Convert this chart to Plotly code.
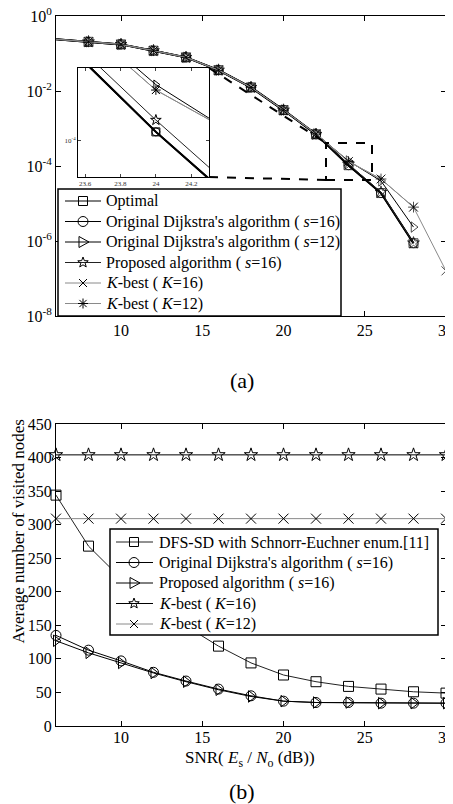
import math
import plotly.graph_objects as go

# page has an 8px body margin, so the figure is drawn 8px right/down
OFF = 8
W, H = 453 - OFF, 804 - OFF

# ---------------- data: (a) BER ----------------
snr_a = [6, 8, 10, 12, 14, 16, 18, 20, 22, 24, 26, 28]
snr_a30 = [6, 8, 10, 12, 14, 16, 18, 20, 22, 24, 26, 28, 30]
ber_optimal = [0.24, 0.205, 0.175, 0.119, 0.079, 0.036, 0.0125, 3.1e-3, 7.0e-4, 1.05e-4, 1.9e-5, 8.7e-7]
ber_dijk16 = [0.24, 0.205, 0.175, 0.119, 0.079, 0.036, 0.0125, 3.1e-3, 7.0e-4, 1.05e-4, 1.9e-5, 8.7e-7]
ber_dijk12 = [0.24, 0.205, 0.175, 0.119, 0.079, 0.036, 0.0125, 3.1e-3, 7.2e-4, 1.36e-4, 4.0e-5, 2.35e-6]
ber_prop16 = [0.24, 0.205, 0.175, 0.119, 0.079, 0.036, 0.0125, 3.1e-3, 7.0e-4, 1.12e-4, 2.0e-5, 8.9e-7]
ber_kbest16 = [0.24, 0.205, 0.175, 0.119, 0.079, 0.036, 0.0125, 3.1e-3, 7.2e-4, 1.32e-4, 4.5e-5, 8.0e-6, 1.6e-7]
ber_kbest12 = [0.24, 0.205, 0.175, 0.119, 0.079, 0.036, 0.0125, 3.1e-3, 7.2e-4, 1.32e-4, 4.5e-5, 8.0e-6]

# ---------------- data: (b) visited nodes ----------------
snr_b = [6, 8, 10, 12, 14, 16, 18, 20, 22, 24, 26, 28, 30]
nodes_dfs = [344, 268, 220, 182, 149, 119, 94, 76, 66, 59, 55, 51, 49]
nodes_dijk16 = [135, 113, 97, 80, 67, 55, 45, 37, 35, 35, 34, 34, 34]
nodes_prop16 = [127, 109, 94, 79, 66, 54, 44, 37, 35, 35, 34, 34, 34]
nodes_kbest16 = [404] * 13
nodes_kbest12 = [309] * 13

y_ticks_a = [1, 1e-2, 1e-4, 1e-6, 1e-8]
y_ticktext_a = ["10<sup>0</sup>", "10<sup>-2</sup>", "10<sup>-4</sup>", "10<sup>-6</sup>", "10<sup>-8</sup>"]
x_ticks = [10, 15, 20, 25, 30]
inset_x_ticks = [23.6, 23.8, 24, 24.2]

FONT = "Liberation Serif, Times New Roman, serif"
BLACK = "black"
GRAY = "#8a8a8a"


def px_x(p):
    return (p - OFF) / W


def px_y(p):
    return 1 - (p - OFF) / H


fig = go.Figure()

top_series = [
    ("Optimal", snr_a, ber_optimal, "square", BLACK, 2.0),
    ("Original Dijkstra's algorithm ( <i>s</i>=16)", snr_a, ber_dijk16, "circle", BLACK, 2.0),
    ("Original Dijkstra's algorithm ( <i>s</i>=12)", snr_a, ber_dijk12, "triangle-right", BLACK, 1.0),
    ("Proposed algorithm ( <i>s</i>=16)", snr_a, ber_prop16, "star", "#222222", 1.0),
    ("<i>K</i>-best ( <i>K</i>=16)", snr_a30, ber_kbest16, "x-thin", GRAY, 1.0),
    ("<i>K</i>-best ( <i>K</i>=12)", snr_a, ber_kbest12, "asterisk", GRAY, 1.0),
]

for name, xs, ys, sym, lc, lw in top_series:
    sizes = [0] + [9] * (len(xs) - 1)
    fig.add_trace(go.Scatter(
        x=xs, y=ys, name=name, mode="lines+markers", showlegend=False,
        line=dict(color=lc, width=lw),
        marker=dict(symbol=sym + "-open", size=sizes, color=BLACK, line=dict(color=BLACK, width=1)),
        xaxis="x", yaxis="y",
    ))
    # inset copy
    fig.add_trace(go.Scatter(
        x=xs, y=ys, name=name, mode="lines+markers", showlegend=False,
        line=dict(color=lc, width=lw),
        marker=dict(symbol=sym + "-open", size=8, color=BLACK, line=dict(color=BLACK, width=1)),
        xaxis="x3", yaxis="y3",
    ))

bottom_series = [
    ("DFS-SD with Schnorr-Euchner enum.[11]", nodes_dfs, "square", "#222222"),
    ("Original Dijkstra's algorithm ( <i>s</i>=16)", nodes_dijk16, "circle", BLACK),
    ("Proposed algorithm ( <i>s</i>=16)", nodes_prop16, "triangle-right", BLACK),
    ("<i>K</i>-best ( <i>K</i>=16)", nodes_kbest16, "star", BLACK),
    ("<i>K</i>-best ( <i>K</i>=12)", nodes_kbest12, "x-thin", GRAY),
]
for name, ys, sym, lc in bottom_series:
    fig.add_trace(go.Scatter(
        x=snr_b, y=ys, name=name, mode="lines+markers", showlegend=False,
        line=dict(color=lc, width=1),
        marker=dict(symbol=sym + "-open", size=10, color=BLACK, line=dict(color=BLACK, width=1)),
        xaxis="x2", yaxis="y2", cliponaxis=False,
    ))

# ---------------- hand-drawn legends (shapes + text) ----------------
shapes = []
annotations = []


def P(x, y):
    return f"{px_x(x):.5f},{px_y(y):.5f}"


def add_line(x0, y0, x1, y1, color, width=1, dash=None):
    ln = dict(color=color, width=width)
    if dash:
        ln["dash"] = dash
    shapes.append(dict(type="line", xref="paper", yref="paper", layer="above",
                       x0=px_x(x0), y0=px_y(y0), x1=px_x(x1), y1=px_y(y1), line=ln))


def add_path(pts, color):
    d = "M " + " L ".join(P(x, y) for x, y in pts) + " Z"
    shapes.append(dict(type="path", xref="paper", yref="paper", layer="above", path=d,
                       line=dict(color=color, width=1), fillcolor="rgba(0,0,0,0)"))


def glyph(sym, cx, cy):
    s = 4.5
    if sym == "square":
        add_path([(cx - s, cy - s), (cx + s, cy - s), (cx + s, cy + s), (cx - s, cy + s)], BLACK)
    elif sym == "circle":
        shapes.append(dict(type="circle", xref="paper", yref="paper", layer="above",
                           x0=px_x(cx - s - 0.5), x1=px_x(cx + s + 0.5),
                           y0=px_y(cy + s + 0.5), y1=px_y(cy - s - 0.5),
                           line=dict(color=BLACK, width=1), fillcolor="rgba(0,0,0,0)"))
    elif sym == "triangle-right":
        add_path([(cx - 4, cy - 5.5), (cx + 6, cy), (cx - 4, cy + 5.5)], BLACK)
    elif sym == "star":
        pts = []
        for k in range(10):
            r = 5.5 if k % 2 == 0 else 2.3
            a = -math.pi / 2 + k * math.pi / 5
            pts.append((cx + r * math.cos(a), cy + r * math.sin(a)))
        add_path(pts, BLACK)
    elif sym == "x-thin":
        add_line(cx - 4, cy - 4, cx + 4, cy + 4, BLACK)
        add_line(cx - 4, cy + 4, cx + 4, cy - 4, BLACK)
    elif sym == "asterisk":
        add_line(cx - 5, cy, cx + 5, cy, BLACK)
        add_line(cx, cy - 5, cx, cy + 5, BLACK)
        add_line(cx - 3.6, cy - 3.6, cx + 3.6, cy + 3.6, BLACK)
        add_line(cx - 3.6, cy + 3.6, cx + 3.6, cy - 3.6, BLACK)


def legend_box(x0, y0, x1, y1):
    shapes.append(dict(type="rect", xref="paper", yref="paper", layer="above",
                       x0=px_x(x0), x1=px_x(x1), y0=px_y(y1), y1=px_y(y0),
                       line=dict(color=BLACK, width=1.5), fillcolor="white"))


def legend_entries(items, rows, lx0, lx1, mx, tx):
    for (name, sym, lc), cy in zip(items, rows):
        add_line(lx0, cy, lx1, cy, lc, 1)
        glyph(sym, mx, cy)
        annotations.append(dict(text=name, x=px_x(tx), y=px_y(cy), xref="paper", yref="paper",
                                xanchor="left", yanchor="middle", showarrow=False,
                                font=dict(family=FONT, size=16, color=BLACK)))


legend_box(58, 189, 341, 316)
legend_entries([(n, s, c) for n, _, _, s, c, _ in top_series],
               [201, 221.5, 242, 262.5, 283, 303.5], 65, 101, 83, 104)

legend_box(110, 529, 438, 635)
legend_entries([(n, s, c) for n, _, s, c in bottom_series],
               [542, 562.5, 583, 603.5, 624], 116, 153, 134, 157)

# dashed zoom rectangle and connectors
dash = dict(color="black", width=2, dash="dash")
shapes += [
    dict(type="rect", xref="paper", yref="paper",
         x0=px_x(326), x1=px_x(372), y0=px_y(180), y1=px_y(143), line=dash),
    dict(type="line", xref="paper", yref="paper",
         x0=px_x(209), y0=px_y(68), x1=px_x(326), y1=px_y(143), line=dash),
    dict(type="line", xref="paper", yref="paper",
         x0=px_x(209), y0=px_y(177), x1=px_x(326), y1=px_y(180), line=dash),
]

annotations += [
    dict(text="(a)", x=px_x(242), y=px_y(380), xref="paper", yref="paper",
         xanchor="center", yanchor="middle",
         showarrow=False, font=dict(family=FONT, size=22, color="black")),
    dict(text="(b)", x=px_x(242), y=px_y(791), xref="paper", yref="paper",
         xanchor="center", yanchor="middle",
         showarrow=False, font=dict(family=FONT, size=22, color="black")),
    dict(text="SNR( <i>E</i><sub>s</sub> / <i>N</i><sub>o</sub> (dB))", x=px_x(250), y=px_y(759),
         xref="paper", yref="paper", xanchor="center", yanchor="middle", showarrow=False,
         font=dict(family=FONT, size=17, color="black")),
    dict(text="Average number of visited nodes", x=px_x(17.5), y=px_y(532),
         xref="paper", yref="paper", xanchor="center", yanchor="middle",
         showarrow=False, textangle=-90,
         font=dict(family=FONT, size=17, color="black")),
]

axis_common = dict(
    showline=True, linecolor="black", linewidth=1, mirror="ticks",
    ticks="inside", ticklen=5, tickcolor="black", showgrid=False, zeroline=False,
    automargin=False, ticklabeloverflow="allow",
    tickfont=dict(family=FONT, size=16, color="black"),
)

inset_axis = dict(showline=True, linecolor="black", linewidth=1, mirror="ticks",
                  ticks="inside", ticklen=3, showgrid=False, zeroline=False, automargin=False,
                  ticklabeloverflow="allow",
                  tickfont=dict(family=FONT, size=7, color="#333"))

fig.update_layout(
    width=W, height=H,
    margin=dict(l=0, r=0, t=0, b=0),
    paper_bgcolor="white", plot_bgcolor="white",
    font=dict(family=FONT, size=16, color="black"),
    showlegend=False,
    xaxis=dict(domain=[px_x(56), px_x(446)], range=[6, 30], tickvals=x_ticks,
               anchor="y", **axis_common),
    yaxis=dict(domain=[px_y(316), px_y(16)], type="log", range=[-8, 0],
               tickvals=y_ticks_a, ticktext=y_ticktext_a, anchor="x", **axis_common),
    xaxis2=dict(domain=[px_x(56), px_x(446)], range=[6, 30], tickvals=x_ticks,
                anchor="y2", ticklabelstandoff=-3, **axis_common),
    yaxis2=dict(domain=[px_y(726), px_y(424)], range=[0, 450], dtick=50,
                anchor="x2", **axis_common),
    xaxis3=dict(domain=[px_x(78), px_x(209)], range=[23.56, 24.3], tickvals=inset_x_ticks,
                anchor="y3", **inset_axis),
    yaxis3=dict(domain=[px_y(177), px_y(68)], type="log", range=[-4.086, -3.827],
                tickvals=[1e-4], ticktext=["10<sup>-4</sup>"], anchor="x3", **inset_axis),
    shapes=shapes,
    annotations=annotations,
)

fig.write_html("out.html")
